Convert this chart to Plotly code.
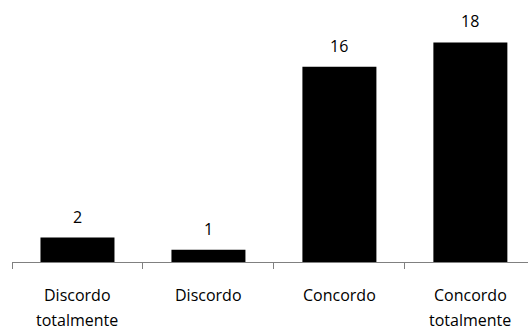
import plotly.graph_objects as go

categories = ["Discordo totalmente", "Discordo", "Concordo", "Concordo totalmente"]
label_lines = [["Discordo", "totalmente"], ["Discordo"], ["Concordo"], ["Concordo", "totalmente"]]
values = [2, 1, 16, 18]

FONT = "Open Sans"

fig = go.Figure()
fig.add_trace(go.Bar(
    x=categories,
    y=values,
    marker=dict(color="#000000", line=dict(width=0)),
    width=0.565,
    hoverinfo="skip",
))

# value labels above each bar
for cat, val in zip(categories, values):
    fig.add_annotation(
        x=cat, y=val, text=str(val), showarrow=False,
        yanchor="bottom", yshift=8,
        font=dict(family=FONT, size=16, color="#000000"),
    )

# category labels below the axis, one annotation per line
for cat, lines in zip(categories, label_lines):
    for i, line in enumerate(lines):
        fig.add_annotation(
            x=cat, y=0, text=line, showarrow=False,
            yanchor="middle", yshift=-33 - 25 * i,
            font=dict(family=FONT, size=16, color="#000000"),
        )

fig.update_layout(
    width=528, height=331,
    margin=dict(l=12, r=0, t=18, b=69),
    paper_bgcolor="white", plot_bgcolor="white",
    showlegend=False,
    font=dict(family=FONT, size=16, color="#000000"),
)
fig.update_xaxes(
    type="category",
    range=[-0.5, 3.44],
    showline=True, linecolor="#808080", linewidth=1,
    ticks="outside", tickson="boundaries", ticklen=6,
    tickcolor="#808080", tickwidth=1,
    showgrid=False, zeroline=False,
    showticklabels=False,
)
fig.update_yaxes(
    range=[0, 20], visible=False, showgrid=False, zeroline=False,
)

fig.write_html("out.html")
